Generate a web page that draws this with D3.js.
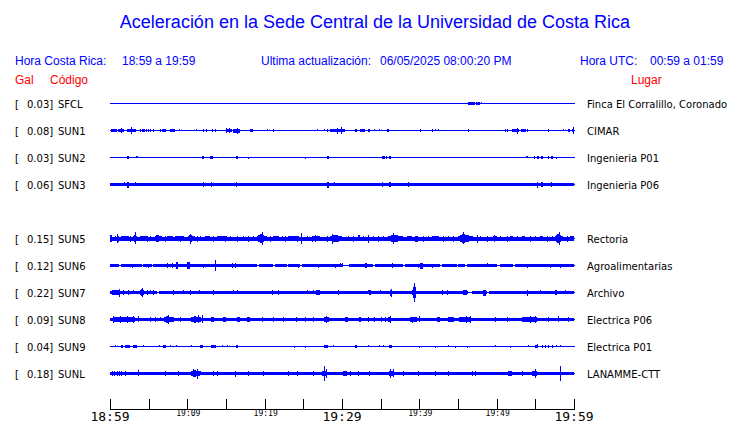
<!DOCTYPE html>
<html><head><meta charset="utf-8">
<script src="https://cdn.jsdelivr.net/npm/d3@7"></script>
<style>body{margin:0;background:#fff}svg{display:block}</style>
</head><body>
<svg id="c" width="740" height="423"></svg>
<script>
// ---------- data ----------
const stations = ["SFCL","SUN1","SUN2","SUN3","SUN5","SUN6","SUN7","SUN8","SUN9","SUNL"];
const rowIndex = [0,1,2,3,5,6,7,8,9,10];   // SUN4 row is empty
const peakGal  = ["0.03","0.08","0.03","0.06","0.15","0.12","0.22","0.09","0.04","0.18"];
const places   = ["Finca El Corralillo, Coronado","CIMAR","Ingenieria P01","Ingenieria P06","Rectoria",
                  "Agroalimentarias","Archivo","Electrica P06","Electrica P01","LANAMME-CTT"];
// background noise half-amplitude (Gal)
const baseAmp  = [0, 0, 0, 0.03, 0.035, 0.025, 0.03, 0.03, 0, 0.03];
// quiet stretches (minutes after 18:59)
const gapsSUN6 = [[1.16,1.42],[4.1,4.31],[5.39,5.6],[18.97,19.31],[21.08,21.34],[22.85,23.06],[24.57,24.79],
  [30.09,30.9],[34.05,34.27],[37.93,38.15],[42.67,42.89],[44.83,45.04],[45.9,46.12],[50.0,50.43],[52.15,52.37]];
const gapsSUN7 = [[6.08,6.34],[46.29,46.81],[48.75,49.0]];
// bursts: [start min, end min, half amplitude Gal]
const burstsSFCL = [[46.33,47.2,0.025],[47.33,47.85,0.025],[47.98,48.04,0.015]];
const burstsSUN1 = [[0.09,0.86,0.03],[1.03,1.81,0.03],[1.36,1.45,0.05],[2.16,3.36,0.03],[2.72,2.81,0.08],
  [3.94,4.03,0.02],[4.14,4.53,0.025],[4.66,4.75,0.02],[4.91,4.98,0.02],[5.17,5.25,0.02],[5.62,5.71,0.02],
  [6.47,6.6,0.02],[6.72,7.24,0.025],[7.76,8.41,0.03],[8.92,9.0,0.015],[11.06,11.12,0.015],[12.03,12.11,0.02],
  [12.35,12.41,0.02],[13.25,13.32,0.02],[13.58,13.64,0.02],[14.99,15.77,0.03],[15.06,15.13,0.05],[15.39,15.45,0.05],
  [15.91,16.81,0.035],[16.36,16.45,0.06],[18.1,18.45,0.025],[20.3,20.37,0.015],[21.08,21.14,0.02],[26.77,26.83,0.015],
  [27.67,27.74,0.015],[28.06,28.13,0.02],[28.45,30.39,0.03],[29.36,29.42,0.06],[29.81,29.87,0.07],[31.68,31.94,0.025],
  [32.33,32.97,0.03],[33.36,33.62,0.025],[34.1,34.18,0.015],[34.74,34.82,0.015],[35.78,35.86,0.02],[35.98,36.06,0.02],
  [40.05,40.13,0.02],[41.6,41.68,0.02],[41.98,42.06,0.015],[42.37,42.45,0.015],[46.26,46.34,0.02],[51.14,51.22,0.02],
  [51.39,51.47,0.02],[51.95,52.89,0.03],[52.6,52.67,0.06],[53.15,53.8,0.03],[53.98,54.06,0.02],[56.62,56.7,0.02],
  [58.54,58.62,0.015],[59.18,59.48,0.025],[59.74,60.0,0.03],[59.92,60.0,0.07]];
const burstsSUN2 = [[2.2,2.46,0.03],[3.36,3.62,0.015],[11.9,12.16,0.025],[12.93,13.28,0.025],[16.25,16.51,0.025],
  [17.8,17.88,0.012],[25.2,25.28,0.012],[28.02,28.32,0.025],[35.13,35.56,0.03],[35.74,35.82,0.02],[36.08,36.3,0.025],
  [53.79,54.0,0.015],[54.79,54.87,0.02],[55.25,55.47,0.025],[55.77,55.95,0.025],[56.64,56.72,0.02],[57.02,57.24,0.025],
  [57.63,57.71,0.012]];
const burstsSUN3 = [[1.77,1.85,0.04],[2.2,2.46,0.06],[3.2,3.28,0.04],[12.03,12.11,0.05],[13.02,13.1,0.05],
  [16.25,16.33,0.05],[28.06,28.32,0.06],[28.92,29.0,0.04],[35.13,35.21,0.055],[36.08,36.3,0.05],[38.49,38.57,0.045],
  [55.22,55.3,0.06],[55.73,55.95,0.05],[57.08,57.16,0.045]];
const burstsSUN5 = [[0,0.26,0.08],[1.3,2.6,0.05],[2.97,3.49,0.08],[3.88,5.17,0.045],[5.82,6.72,0.08],[7.37,8.02,0.065],
  [8.4,9.44,0.06],[10.09,10.99,0.08],[12.28,12.93,0.06],[13.7,15.26,0.05],[19.01,20.3,0.1],[21.08,21.98,0.05],
  [22.89,24.57,0.055],[26.25,27.16,0.065],[28.45,30.0,0.085],[32.07,32.33,0.065],[35.95,37.89,0.09],[38.4,39.05,0.065],
  [39.44,39.83,0.06],[41.64,42.67,0.055],[45.0,46.94,0.1],[49.52,50.04,0.065],[51.72,52.11,0.055],[53.28,53.66,0.055],
  [55.6,55.99,0.055],[57.54,58.58,0.11],[59.48,60.0,0.06]];
const burstsSUN6 = [[8.53,8.79,0.075],[9.96,10.34,0.07],[32.97,33.23,0.05],[40.09,40.47,0.06]];
const burstsSUN7 = [[0.13,1.42,0.055],[3.88,4.4,0.07],[26.51,27.42,0.05],[33.36,33.88,0.05],[36.21,36.47,0.06],
  [39.0,39.66,0.07],[45.65,46.16,0.05],[48.23,48.62,0.06],[57.54,57.8,0.05]];
const burstsSUN8 = [[0,4.27,0.05],[6.85,8.41,0.07],[10.34,12.03,0.07],[12.93,13.58,0.05],[14.48,15.13,0.05],
  [16.42,16.81,0.05],[17.72,18.1,0.05],[27.67,28.45,0.07],[30.39,30.78,0.05],[32.07,32.59,0.05],[35.95,36.47,0.06],
  [38.53,40.09,0.05],[42.28,42.67,0.05],[43.58,44.6,0.06],[45.0,46.94,0.06],[53.02,55.6,0.06]];
const burstsSUN9 = [[1.38,1.68,0.02],[1.94,2.59,0.025],[2.97,3.49,0.02],[6.85,7.24,0.02],[11.64,12.03,0.025],
  [13.06,13.71,0.025],[16.29,16.55,0.025],[27.67,28.19,0.02],[31.68,31.94,0.02],[36.08,36.47,0.025],[54.95,55.34,0.03]];
const burstsSUNL = [[10.34,11.9,0.07],[27.42,28.19,0.07],[30.0,30.78,0.05],[35.95,36.86,0.065],[51.34,52.11,0.06],
  [54.57,55.34,0.065]];
// single spikes: [minute, half amplitude Gal]
const spikesSFCL = [];
const spikesSUN1 = [];
const spikesSUN2 = [];
const spikesSUN3 = [];
const spikesSUN5 = [[0.65,0.055],[0.91,0.1],[1.07,0.06],[1.94,0.055],[2.59,0.06],[3.27,0.14],[3.88,0.055],[4.75,0.06],
  [5.17,0.05],[7.11,0.06],[7.98,0.055],[9.05,0.06],[9.48,0.055],[10.34,0.11],[11.21,0.06],[11.64,0.055],[13.36,0.06],
  [14.22,0.055],[14.87,0.06],[15.52,0.055],[16.38,0.06],[17.24,0.055],[17.88,0.06],[18.53,0.055],[19.7,0.15],
  [20.69,0.06],[22.2,0.055],[22.63,0.06],[23.5,0.055],[24.14,0.06],[24.7,0.13],[25.44,0.055],[26.08,0.06],[26.73,0.055],
  [28.02,0.06],[28.75,0.11],[29.52,0.06],[30.81,0.055],[31.46,0.06],[32.75,0.055],[33.37,0.085],[34.05,0.055],
  [34.69,0.06],[35.34,0.055],[36.64,0.12],[40.51,0.06],[41.16,0.055],[43.1,0.06],[43.75,0.055],[44.39,0.06],
  [45.69,0.14],[47.45,0.085],[47.84,0.055],[48.71,0.06],[50.43,0.055],[51.3,0.06],[52.59,0.055],[54.31,0.06],
  [54.95,0.055],[56.47,0.06],[57.12,0.055],[58.04,0.15],[59.06,0.06]];
const spikesSUN6 = [[2.8,0.035],[4.96,0.035],[7.37,0.05],[8.02,0.05],[12.07,0.035],[13.58,0.12],[15.78,0.05],
  [16.16,0.05],[24.36,0.035],[26.94,0.035],[29.1,0.035],[29.74,0.04],[30.0,0.04],[36.47,0.05],[39.87,0.035],
  [41.6,0.035],[48.75,0.04],[53.88,0.035],[56.9,0.035],[58.19,0.035]];
const spikesSUN7 = [[1.2,0.085],[1.68,0.045],[2.33,0.045],[2.97,0.04],[4.14,0.095],[4.78,0.045],[5.17,0.04],
  [5.56,0.045],[8.15,0.045],[9.44,0.04],[10.34,0.045],[11.51,0.04],[13.32,0.055],[15.9,0.04],[16.38,0.04],
  [20.91,0.045],[21.76,0.045],[25.44,0.04],[26.29,0.04],[29.48,0.045],[34.91,0.04],[36.3,0.085],[39.2,0.13],
  [39.36,0.22],[39.5,0.12],[42.93,0.05],[43.58,0.045],[53.92,0.06],[55.6,0.04],[58.84,0.04]];
const spikesSUN8 = [[0.39,0.075],[1.29,0.07],[2.2,0.075],[2.97,0.07],[3.62,0.065],[5.17,0.045],[5.82,0.045],
  [6.47,0.04],[7.5,0.1],[9.05,0.05],[11.4,0.09],[11.86,0.09],[19.66,0.045],[21.08,0.045],[22.37,0.045],[24.05,0.045],
  [25.22,0.045],[26.25,0.045],[33.36,0.045],[34.14,0.045],[35.0,0.05],[35.6,0.045],[36.2,0.075],[39.1,0.06],
  [39.9,0.065],[46.0,0.075],[46.5,0.07],[49.78,0.045],[51.34,0.045],[54.3,0.075],[55.0,0.07],[56.64,0.05],
  [57.93,0.065],[59.22,0.045]];
const spikesSUN9 = [[0.65,0.015],[4.23,0.015],[6.34,0.015],[7.76,0.015],[8.53,0.015],[10.43,0.015],[14.48,0.015],
  [15.13,0.015],[23.79,0.012],[25.22,0.012],[28.84,0.015],[33.36,0.015],[34.78,0.015],[35.26,0.015],[39.96,0.012],
  [42.02,0.012],[43.71,0.015],[44.61,0.012],[46.16,0.012],[49.78,0.015],[51.72,0.012],[54.05,0.015],[55.2,0.04],
  [55.82,0.02],[56.25,0.02],[56.68,0.02],[57.15,0.02],[57.67,0.015],[58.19,0.015]];
const spikesSUNL = [[0.22,0.05],[0.52,0.05],[0.86,0.05],[1.2,0.05],[1.42,0.05],[1.94,0.05],[3.58,0.065],[7.11,0.055],
  [8.79,0.05],[10.7,0.09],[11.21,0.11],[13.32,0.055],[13.84,0.05],[16.16,0.06],[17.88,0.05],[19.83,0.05],[23.06,0.05],
  [24.22,0.05],[26.29,0.05],[27.71,0.18],[27.9,0.1],[31.03,0.045],[32.07,0.05],[33.49,0.05],[36.2,0.1],[36.6,0.09],
  [37.89,0.05],[39.83,0.05],[42.02,0.05],[43.71,0.05],[46.81,0.05],[47.2,0.05],[53.28,0.055],[55.0,0.1],[58.19,0.18]];
const tickMinutes = [0,5,10,15,20,25,30,35,40,45,50,55,60];
const bigTickLabels = [[0,"18:59"],[30,"19:29"],[60,"19:59"]];
const smallTickLabels = [[10,"19:09"],[20,"19:19"],[40,"19:39"],[50,"19:49"]];
const titleText = "Aceleración en la Sede Central de la Universidad de Costa Rica";

// ---------- assemble ----------
const burstSets = [burstsSFCL,burstsSUN1,burstsSUN2,burstsSUN3,burstsSUN5,burstsSUN6,burstsSUN7,burstsSUN8,burstsSUN9,burstsSUNL];
const spikeSets = [spikesSFCL,spikesSUN1,spikesSUN2,spikesSUN3,spikesSUN5,spikesSUN6,spikesSUN7,spikesSUN8,spikesSUN9,spikesSUNL];
const gapSets = {SUN6: gapsSUN6, SUN7: gapsSUN7};

const BLUE = "#0000ff";
const svg = d3.select("#c");
const x = d3.scaleLinear().domain([0,60]).range([110,574]);
const row = d3.scaleLinear().domain([0,10]).range([103.5,373.5]);
const amp = d3.scaleLinear().domain([0,0.25]).range([0,10]);

// texts
svg.append("text").attr("x",375).attr("y",28).attr("text-anchor","middle")
  .attr("font-family","Liberation Sans, Arial, sans-serif").attr("font-size",18).attr("fill",BLUE).text(titleText);
const hdr = [[15,"Hora Costa Rica:"],[122,"18:59 a 19:59"],[261,"Ultima actualización:"],[380,"06/05/2025 08:00:20 PM"],
  [580,"Hora UTC:"],[650,"00:59 a 01:59"]];
svg.selectAll("text.h").data(hdr).join("text").attr("class","h").attr("x",d=>d[0]).attr("y",65)
  .attr("font-family","Liberation Sans, Arial, sans-serif").attr("font-size",12).attr("fill",BLUE).text(d=>d[1]);
const red = [[15,"Gal"],[50,"Código"],[631,"Lugar"]];
svg.selectAll("text.r").data(red).join("text").attr("class","r").attr("x",d=>d[0]).attr("y",84)
  .attr("font-family","Liberation Sans, Arial, sans-serif").attr("font-size",12).attr("fill","#ff0000").text(d=>d[1]);

const rows = stations.map((s,i)=>({s, r: rowIndex[i], g: peakGal[i], p: places[i], base: baseAmp[i],
  bursts: burstSets[i], spikes: spikeSets[i], gaps: gapSets[s] || []}));

const lab = svg.append("g").attr("font-family","DejaVu Sans, sans-serif").attr("font-size",10).attr("fill","#000");
rows.forEach(d=>{
  const y = row(d.r)+4;
  lab.append("text").attr("x",15).attr("y",y).text("[");
  lab.append("text").attr("x",27).attr("y",y).text(d.g+"]");
  lab.append("text").attr("x",58).attr("y",y).text(d.s);
  lab.append("text").attr("x",587).attr("y",y).text(d.p);
});

const tr = svg.append("g").attr("fill",BLUE).attr("shape-rendering","crispEdges");
function band(y, t0, t1, a, minW){
  const x0 = Math.round(x(t0));
  const w = Math.max(minW, Math.round(x(t1)) - x0);
  const h = amp(a);
  tr.append("rect").attr("x",x0).attr("width",w)
    .attr("y",Math.round(y - 0.5 - h)).attr("height",Math.max(1,Math.round(2*h+1)));
}
// wave packet: quick rise, slower decay, drawn between the burst's start and end
function packet(y, t0, t1, a, b){
  const x0 = x(t0), x1 = x(t1), xp = x0 + 0.35*(x1-x0);
  const h = amp(a) + 0.5, hb = amp(b) + 0.5;
  const pts = [[x0,y-hb],[xp,y-h],[x1,y-hb],[x1,y+hb],[xp,y+h],[x0,y+hb]];
  tr.append("path").attr("d", d3.line()(pts) + "Z");
}
rows.forEach(d=>{
  const y = row(d.r);
  tr.append("rect").attr("x",x(0)).attr("width",x(60)-x(0)+1).attr("y",y-0.5).attr("height",1);
  if (d.base > 0){
    let start = 0;
    const segs = [];
    d.gaps.forEach(g=>{ segs.push([start,g[0]]); start = g[1]; });
    segs.push([start,60]);
    segs.forEach(s=>band(y, s[0], s[1], d.base, 1));
  }
  d.bursts.forEach(b=>{
    const wpx = x(b[1]) - x(b[0]);
    if (wpx >= 4 && b[2] >= 0.045) packet(y, b[0], b[1], b[2], Math.min(d.base, b[2]));
    else band(y, b[0], b[1], b[2], 1);
  });
  d.spikes.forEach(p=>band(y, p[0], p[0], p[1], 1));
});

// time axis
const ax = svg.append("g").attr("shape-rendering","crispEdges");
ax.append("line").attr("x1",x(0)).attr("x2",x(60)+1).attr("y1",409.5).attr("y2",409.5).attr("stroke","#000");
ax.selectAll("line.t").data(tickMinutes).join("line").attr("class","t")
  .attr("x1",d=>Math.round(x(d))+0.5).attr("x2",d=>Math.round(x(d))+0.5).attr("y1",399).attr("y2",410).attr("stroke","#000");
svg.selectAll("text.bt").data(bigTickLabels).join("text").attr("class","bt")
  .attr("x",d=>x(d[0])).attr("y",420.5).attr("text-anchor","middle")
  .attr("font-family","DejaVu Sans Mono, monospace").attr("font-size",13).attr("fill","#000").text(d=>d[1]);
svg.selectAll("text.st").data(smallTickLabels).join("text").attr("class","st")
  .attr("x",d=>x(d[0])+1).attr("y",416).attr("text-anchor","middle")
  .attr("font-family","DejaVu Sans Mono, monospace").attr("font-size",8).attr("fill","#000").text(d=>d[1]);
</script>
</body></html>
